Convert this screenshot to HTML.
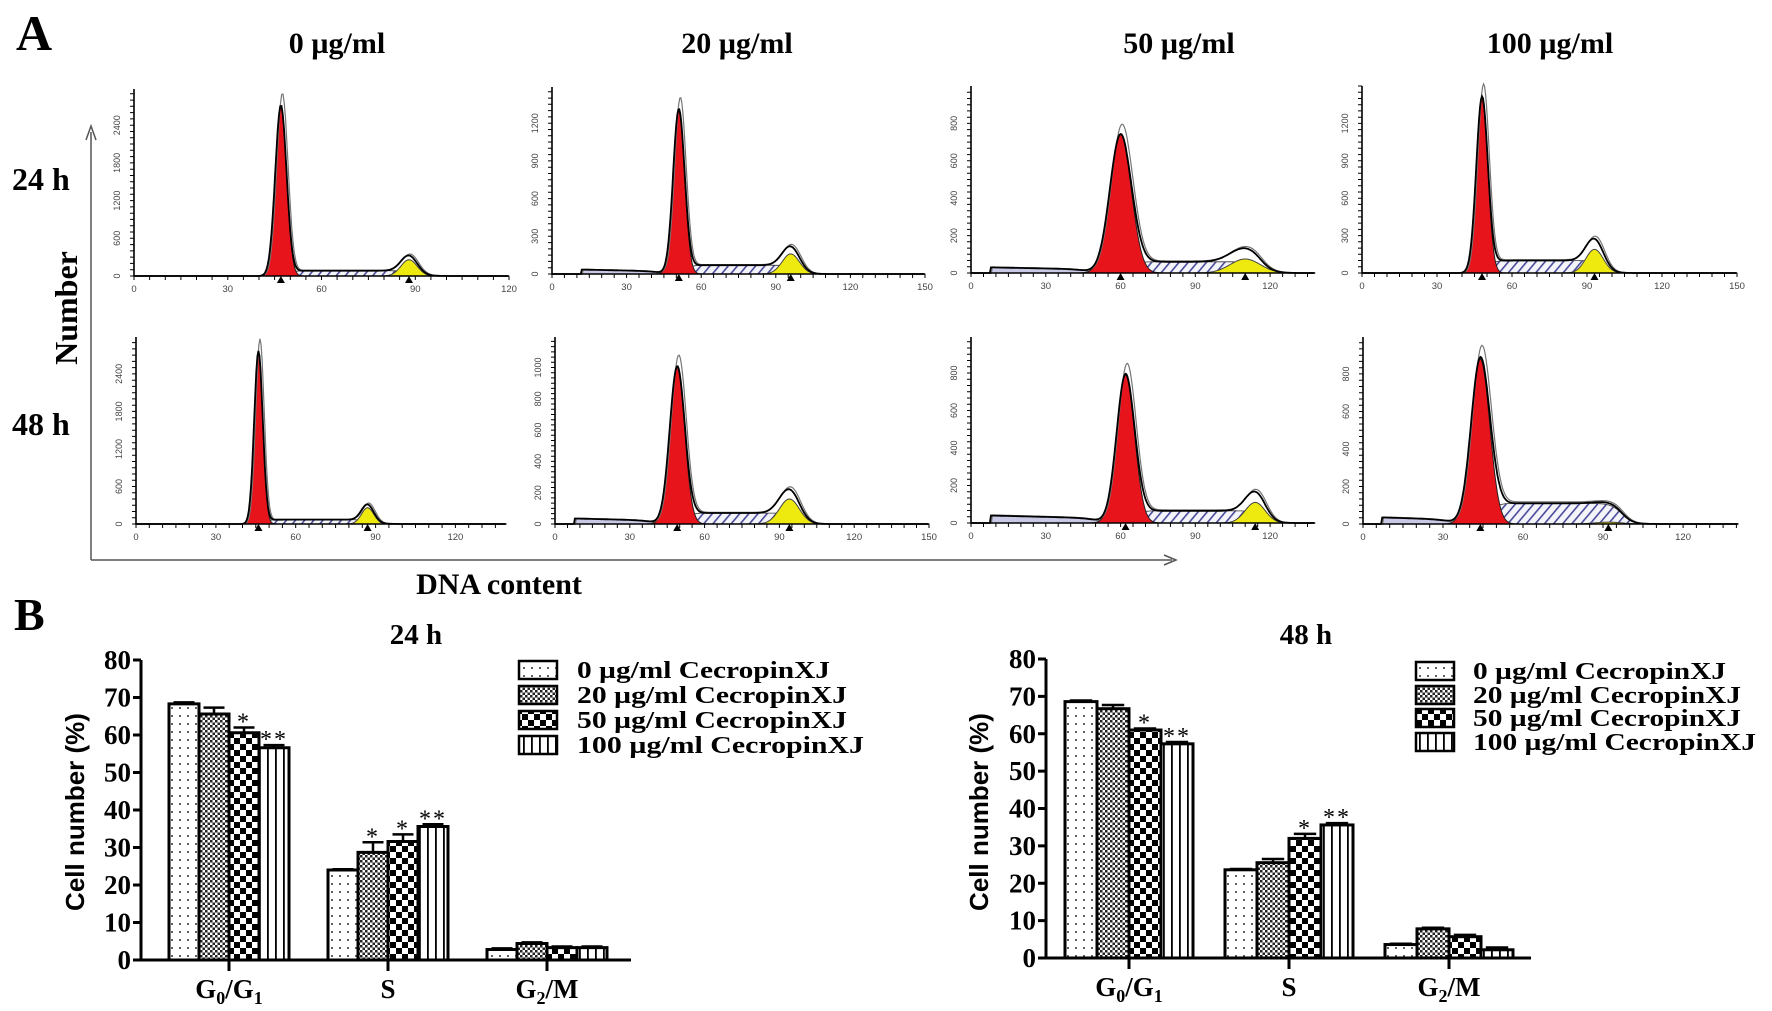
<!DOCTYPE html>
<html><head><meta charset="utf-8"><style>
html,body{margin:0;padding:0;background:#fff;}
svg{display:block;}
text{font-family:"Liberation Serif",serif;}
</style></head><body>
<svg id="fig" width="1772" height="1011" viewBox="0 0 1772 1011" xmlns="http://www.w3.org/2000/svg">
<defs>
<pattern id="pDots" width="8" height="8" patternUnits="userSpaceOnUse"><rect width="8" height="8" fill="#fff"/><circle cx="4" cy="4" r="1" fill="#333"/></pattern>
<pattern id="pFine" width="5" height="5" patternUnits="userSpaceOnUse"><rect width="5" height="5" fill="#fff"/><rect width="2.5" height="2.5" fill="#222"/><rect x="2.5" y="2.5" width="2.5" height="2.5" fill="#222"/></pattern>
<pattern id="pCoarse" width="12" height="12" patternUnits="userSpaceOnUse"><rect width="12" height="12" fill="#fff"/><rect width="6" height="6" fill="#000"/><rect x="6" y="6" width="6" height="6" fill="#000"/></pattern>
<pattern id="pStripe" width="8" height="8" patternUnits="userSpaceOnUse"><rect width="8" height="8" fill="#fff"/><rect x="3" width="1.8" height="8" fill="#000"/></pattern>
<pattern id="pHatch" width="7" height="7" patternUnits="userSpaceOnUse" patternTransform="rotate(40)"><rect width="7" height="7" fill="#f4f4fb"/><rect width="1.6" height="7" fill="#4a4a9a"/></pattern>
</defs>
<g id="panelA"></g>
<g id="panelB"></g>
</svg>
<script>
// ---------- Panel A histogram data ----------
const histLabels = ["0-24h","20-24h","50-24h","100-24h","0-48h","20-48h","50-48h","100-48h"];
const histXMax = [120,150,138,150,139,150,138,140.6];
const histYTop = [2976,1488,1000,1500,2990,1195,992,997];
const histYStep = [600,300,200,300,600,200,200,200];
const histYMaxLabel = [2400,1200,800,1200,2400,1000,800,800];
const g1Mean = [47,51,60,48,46,49,62,44];
const g1Height = [2700,1300,740,1400,2750,1000,790,880];
const g1Sd = [1.8,2.3,4.3,2.3,1.6,3,3.6,3.5];
const sLevel = [85,70,60,100,70,70,65,110];
const g2Mean = [88,96,110,93,87,94,114,92];
const g2Height = [260,160,75,190,260,160,110,10];
const g2Sd = [2.6,3.5,6,3.5,2.3,4,4,5];
const debrisStart = [0,12,8,0,0,8,8,7];
const debrisLevel = [0,35,30,0,0,35,40,35];
// ---------- Panel B bar data ----------
const phases = ["G0/G1","S","G2/M"];
const doses = ["0 µg/ml CecropinXJ","20 µg/ml CecropinXJ","50 µg/ml CecropinXJ","100 µg/ml CecropinXJ"];
const yTicks = [0,10,20,30,40,50,60,70,80];
const vals24 = [[68.3,65.6,60.6,56.6],[24.0,28.7,31.6,35.6],[2.8,4.4,3.3,3.3]];
const err24 = [[0.4,1.7,1.4,0.7],[0.2,2.7,1.9,0.6],[0.3,0.3,0.3,0.3]];
const stars24 = [["","","*","**"],["","*","*","**"],["","","",""]];
const vals48 = [[68.6,66.7,61.0,57.3],[23.6,25.5,32.0,35.6],[3.6,7.8,5.7,2.2]];
const err48 = [[0.3,1.0,0.4,0.5],[0.2,1.0,1.2,0.5],[0.2,0.3,0.5,0.6]];
const stars48 = [["","","*","**"],["","","*","**"],["","","",""]];

const NS="http://www.w3.org/2000/svg";
function mk(tag,attrs,parent){const e=document.createElementNS(NS,tag);for(const k in attrs)e.setAttribute(k,attrs[k]);if(parent)parent.appendChild(e);return e;}
function txt(s,attrs,parent){const e=mk('text',attrs,parent);e.textContent=s;return e;}
const A=document.getElementById('panelA'), B=document.getElementById('panelB');

let t;
t=txt("A",{x:16,y:50,'font-size':50,'font-weight':'bold'},A);


const colTitles=["0 µg/ml","20 µg/ml","50 µg/ml","100 µg/ml"];
const colX=[337,737,1179,1550];
colTitles.forEach((c,i)=>{
  const e=txt(c,{x:colX[i],y:53,'font-size':30,'font-weight':'bold','text-anchor':'middle'},A);
  
  
});
t=txt("24 h",{x:12,y:190,'font-size':32,'font-weight':'bold'},A);


t=txt("48 h",{x:12,y:435,'font-size':32,'font-weight':'bold'},A);


t=txt("Number",{x:0,y:0,'font-size':32,'font-weight':'bold','text-anchor':'middle',transform:'translate(77,308) rotate(-90)'},A);


t=txt("DNA content",{x:499,y:594,'font-size':30,'font-weight':'bold','text-anchor':'middle'},A);


let ax=mk('path',{d:'M91,560 L91,132 M86,140 L91,126 L96,140 M91,560 L1172,560 M1164,555 L1176,560 L1164,565',stroke:'#555','stroke-width':1.5,fill:'none'},A);



const plotAx=[134,552,971,1362,136,555,971,1363];
const plotBase=[276,274,273,273,524,524,523,524];
const plotEnd=[509,925,1315,1737,506,929,1315,1738];
const plotTopY=[89,87,86,86,337,337,337,337];

function gauss(x,m,h,s){return h*Math.exp(-0.5*((x-m)/s)**2);}
function sig(z){return 1/(1+Math.exp(-z));}
for(let i=0;i<8;i++){
  const g=mk('g',{},A);
  
  
  const x0=plotAx[i],yb=plotBase[i],x1=plotEnd[i],yt=plotTopY[i];
  const sx=v=>x0+(v/histXMax[i])*(x1-x0);
  const sy=v=>yb-(v/histYTop[i])*(yb-yt);
  const xs=[];for(let v=0;v<=histXMax[i];v+=0.4)xs.push(v);
  const deb=v=>(debrisLevel[i]>0&&v>=debrisStart[i])?debrisLevel[i]*(1-0.45*(v-debrisStart[i])/Math.max(1,g1Mean[i]-debrisStart[i]))*sig((g1Mean[i]-3*g1Sd[i]-v)/3):0;
  const sph=v=>sLevel[i]*sig((v-g1Mean[i]-g1Sd[i])/1.5)*sig((g2Mean[i]+g2Sd[i]-v)/2);
  const g1=v=>gauss(v,g1Mean[i],g1Height[i],g1Sd[i]);
  const g2=v=>gauss(v,g2Mean[i],g2Height[i],g2Sd[i]);
  const area=(f,col,extra)=>{let d='M'+sx(xs[0])+','+yb;xs.forEach(v=>{d+=' L'+sx(v).toFixed(1)+','+sy(f(v)).toFixed(1);});d+=' L'+sx(xs[xs.length-1])+','+yb+'Z';return mk('path',Object.assign({d:d,fill:col},extra||{}),g);};
  let p=area(deb,'#c9c9e6',{stroke:'#555','stroke-width':0.8});
  
  
  p=area(sph,'url(#pHatch)',{stroke:'#333','stroke-width':0.8});
  
  
  p=area(g1,'#e8141c',{stroke:'#222','stroke-width':1});
  
  
  p=area(g2,'#eeea10',{stroke:'#444','stroke-width':1});
  
  
  const tot=v=>deb(v)+sph(v)+g1(v)+g2(v);
  let d2='',d1='';
  xs.forEach((v,k)=>{d1+=(k?' L':'M')+sx(v).toFixed(1)+','+sy(tot(v)).toFixed(1);d2+=(k?' L':'M')+(sx(v)+1.5).toFixed(1)+','+sy(tot(v)*1.07).toFixed(1);});
  p=mk('path',{d:d2,fill:'none',stroke:'#777','stroke-width':1.2},g);
  
  
  p=mk('path',{d:d1,fill:'none',stroke:'#000','stroke-width':1.8},g);
  
  
  p=mk('path',{d:`M${x0},${yt} L${x0},${yb} L${x1},${yb}`,fill:'none',stroke:'#000','stroke-width':1.6},g);
  
  
  let td='';
  const minor=histYStep[i]/6;
  for(let v=0;v<=histYTop[i];v+=minor){const y=sy(v);td+=`M${x0-4},${y.toFixed(1)} L${x0},${y.toFixed(1)}`;}
  for(let v=0;v<=histXMax[i];v+=5){const x=sx(v);td+=`M${x.toFixed(1)},${yb} L${x.toFixed(1)},${yb+4}`;}
  p=mk('path',{d:td,stroke:'#000','stroke-width':1,fill:'none'},g);
  
  
  for(let v=0;v<=histYMaxLabel[i];v+=histYStep[i]){
    const y=sy(v);
    const e=txt(String(v),{'font-size':9,fill:'#444','text-anchor':'middle',transform:`translate(${x0-14},${y}) rotate(-90)`,style:'font-family:"Liberation Sans",sans-serif'},g);
    
    
  }
  for(let v=0;v<=histXMax[i]+0.01;v+=30){
    const e=txt(String(v),{x:sx(v),y:yb+16,'font-size':9.5,fill:'#444','text-anchor':'middle',style:'font-family:"Liberation Sans",sans-serif'},g);
    
    
  }
  [g1Mean[i],g2Mean[i]].forEach(m=>{const x=sx(m);const tr=mk('path',{d:`M${x-4},${yb+7} L${x+4},${yb+7} L${x},${yb}Z`,fill:'#000'},g);
    
    });
}

t=txt("B",{x:14,y:630,'font-size':46,'font-weight':'bold'},B);


const fills=['url(#pDots)','url(#pFine)','url(#pCoarse)','url(#pStripe)'];
function barChart(title,titleX,axX,y0,y80,axEnd,catX,bw,vals,errs,stars,legX,legTextX,legY,legLens,ytitleX,name){
  const g=mk('g',{},B);
  
  
  const sy=v=>y0-(v/80)*(y0-y80);
  let e=txt(title,{x:titleX,y:644,'font-size':29,'font-weight':'bold','text-anchor':'middle'},g);
  
  
  e=txt("Cell number  (%)",{'font-size':26,'font-weight':'bold','text-anchor':'middle',transform:`translate(${ytitleX},812) rotate(-90)`,style:'font-family:"Liberation Sans",sans-serif'},g);
  
  
  vals.forEach((grp,c)=>{
    grp.forEach((v,k)=>{
      const x=catX[c]-2*bw+k*bw;
      const r=mk('rect',{x:x,y:sy(v),width:bw,height:y0-sy(v),fill:fills[k],stroke:'#000','stroke-width':3},g);
      
      
      const ev=v+errs[c][k], cx=x+bw/2;
      const eb=mk('path',{d:`M${cx},${sy(v)} L${cx},${sy(ev)} M${cx-bw*0.35},${sy(ev)} L${cx+bw*0.35},${sy(ev)}`,stroke:'#000','stroke-width':2.5,fill:'none'},g);
      
      
      if(stars[c][k]){const s=txt(stars[c][k],{x:cx,y:sy(ev)+2,'font-size':24,'text-anchor':'middle','letter-spacing':'2'},g);
        
        }
    });
  });
  let d=`M${axX},${y80} L${axX},${y0} L${axEnd},${y0}`;
  yTicks.forEach(v=>{d+=` M${axX-8},${sy(v)} L${axX},${sy(v)}`;});
  catX.forEach(x=>{d+=` M${x},${y0} L${x},${y0+11}`;});
  e=mk('path',{d:d,stroke:'#000','stroke-width':3,fill:'none'},g);
  
  
  yTicks.forEach(v=>{const l=txt(String(v),{x:axX-10,y:sy(v)+9,'font-size':27,'font-weight':'bold','text-anchor':'end'},g);
    
    });
  phases.forEach((p,c)=>{
    const l=mk('text',{x:catX[c],y:y0+38,'font-size':27,'font-weight':'bold','text-anchor':'middle'},g);
    
    
    if(p==='S'){l.textContent='S';}
    else{
      const parts=p==='G0/G1'?[['G',''],['0','sub'],['/G',''],['1','sub']]:[['G',''],['2','sub'],['/M','']];
      parts.forEach(([s,k])=>{const ts=mk('tspan',k?{'font-size':18,dy:6}:{dy:0},l);ts.textContent=s;
        if(k){const back=mk('tspan',{dy:-6,'font-size':1},l);back.textContent='\u200b';}});
    }
  });
  doses.forEach((dname,k)=>{
    const r=mk('rect',{x:legX,y:legY[k]-9,width:38,height:18,fill:fills[k],stroke:'#000','stroke-width':2.5},g);
    
    
    const l=txt(dname,{x:legTextX,y:legY[k]+8,'font-size':24,'font-weight':'bold',textLength:legLens[k],lengthAdjust:'spacingAndGlyphs'},g);
    
    
  });
}
barChart("24 h",416,141,960,660,631,[229,388,547],30,vals24,err24,stars24,519,577,[670,695,720,745],[253,270,270,287],84,'bar-chart-24h');
barChart("48 h",1306,1046,958,659,1531,[1129,1289,1449],32,vals48,err48,stars48,1416,1473,[671,695,718,742],[253,268,268,283],988,'bar-chart-48h');
</script>
</body></html>
